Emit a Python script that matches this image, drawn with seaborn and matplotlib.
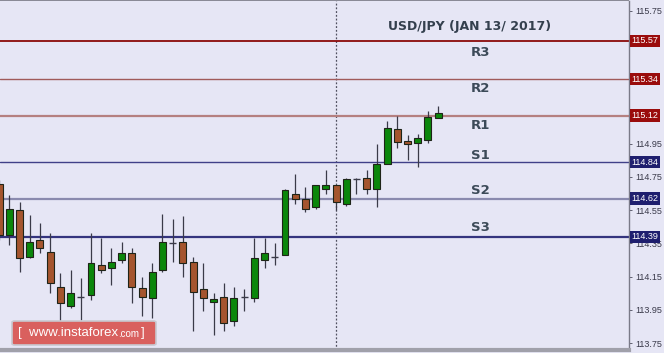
import matplotlib
matplotlib.use("Agg")
import matplotlib.pyplot as plt
import matplotlib.transforms as mtransforms
from matplotlib.patches import FancyBboxPatch, Rectangle
import numpy as np
import pandas as pd
import seaborn as sns

# USD/JPY hourly candles (open, high, low, close)
opens = [114.71, 114.40, 114.55, 114.27, 114.37, 114.30, 114.09, 113.97, 114.03, 114.04,
         114.22, 114.20, 114.25, 114.29, 114.08, 114.02, 114.19, 114.35, 114.36, 114.24,
         114.075, 114.00, 114.03, 113.88, 114.03, 114.02, 114.25, 114.27, 114.28, 114.65,
         114.62, 114.57, 114.68, 114.70, 114.59, 114.735, 114.745, 114.68, 114.83, 115.04,
         114.967, 114.955, 114.97, 115.105]
highs = [114.73, 114.64, 114.60, 114.52, 114.47, 114.41, 114.17, 114.19, 114.14, 114.41,
         114.38, 114.32, 114.36, 114.32, 114.15, 114.23, 114.53, 114.50, 114.515, 114.27,
         114.23, 114.05, 114.11, 114.09, 114.075, 114.38, 114.38, 114.35, 114.68, 114.77,
         114.69, 114.70, 114.79, 114.70, 114.745, 114.745, 114.79, 114.95, 115.09, 115.12,
         115.00, 115.01, 115.15, 115.18]
lows = [114.37, 114.34, 114.18, 114.26, 114.29, 114.05, 113.75, 113.96, 113.89, 114.01,
        114.17, 114.10, 114.23, 113.99, 113.91, 113.90, 114.18, 114.24, 114.15, 113.82,
        113.94, 113.80, 113.82, 113.85, 113.94, 114.00, 114.20, 114.22, 114.28, 114.59,
        114.54, 114.56, 114.65, 114.55, 114.575, 114.65, 114.65, 114.57, 114.83, 114.925,
        114.85, 114.81, 114.955, 115.105]
closes = [114.40, 114.56, 114.26, 114.36, 114.32, 114.11, 113.99, 114.05, 114.03, 114.23,
          114.19, 114.24, 114.29, 114.09, 114.03, 114.18, 114.36, 114.35, 114.23, 114.06,
          114.02, 114.015, 113.87, 114.02, 114.03, 114.26, 114.29, 114.27, 114.67, 114.62,
          114.56, 114.70, 114.70, 114.60, 114.74, 114.735, 114.68, 114.83, 115.045, 114.96,
          114.95, 114.985, 115.11, 115.135]

# Pivot levels
level_names = ["R3", "R2", "R1", "S1", "S2", "S3"]
level_values = [115.57, 115.34, 115.12, 114.84, 114.62, 114.39]
level_label_y = [115.50, 115.28, 115.063, 114.877, 114.666, 114.443]

title_text = "USD/JPY (JAN 13/ 2017)"
tick_values = [113.75, 113.95, 114.15, 114.35, 114.55, 114.75, 114.95, 115.15, 115.35, 115.55, 115.75]
# ticks whose labels sit under a level price tag
covered_ticks = [115.15, 115.35, 115.55]

df = pd.DataFrame({"open": opens, "high": highs, "low": lows, "close": closes})
df["idx"] = np.arange(len(df))
df["bull"] = df["close"] >= df["open"]

bg = "#e6e6f5"
sns.set_theme(style="white", rc={"axes.facecolor": bg, "figure.facecolor": bg})
plt.rcParams["font.family"] = ["Liberation Sans", "DejaVu Sans"]

W, H = 664, 353
fig = plt.figure(figsize=(W / 100, H / 100), dpi=100)
ax = fig.add_axes([0, 3 / H, 629 / W, 349 / H])

green = "#0b870b"
brown = "#a5552e"
edge = "#1e2418"
wick = "#3a3a48"

# wicks
ax.vlines(df["idx"], df["low"], df["high"], color=wick, lw=0.9, zorder=3)

# bodies
body_w = 0.68
for _, r in df.iterrows():
    lo, hi = min(r["open"], r["close"]), max(r["open"], r["close"])
    if hi - lo < 0.006:
        ax.hlines((lo + hi) / 2, r["idx"] - body_w / 2, r["idx"] + body_w / 2,
                  color=wick, lw=1.0, zorder=4)
        continue
    ax.bar(r["idx"], hi - lo, bottom=lo, width=body_w,
           color=green if r["bull"] else brown, edgecolor=edge, linewidth=0.8, zorder=4)

# pivot level lines
level_styles = [("#8b0a0a", 1.3), ("#a05a5a", 1.0), ("#b58080", 1.6),
                ("#404088", 1.0), ("#8a8aae", 1.6), ("#34347e", 1.6)]
for v, (c, lw) in zip(level_values, level_styles):
    ax.axhline(v, color=c, lw=lw, zorder=2)

# session separator
ax.axvline(33, color="#505060", lw=0.9, ls=(0, (1.5, 1.5)), zorder=1)

ax.set_xlim(0.088, 61.69)
ax.set_ylim(113.708, 115.81)

ax.yaxis.tick_right()
ax.set_yticks(tick_values)
ax.set_yticklabels(["" if t in covered_ticks else f"{t:.2f}" for t in tick_values])
ax.tick_params(axis="y", which="both", right=True, length=2.5, width=0.7, color="#606070",
               labelsize=6.5, labelcolor="#3a3a4a", pad=2)
ax.set_xticks([])
for s in ["left", "top"]:
    ax.spines[s].set_visible(False)
ax.spines["right"].set_color("#7a7a88")
ax.spines["right"].set_linewidth(1.0)
ax.spines["bottom"].set_color("#a0a0aa")
ax.spines["bottom"].set_linewidth(3)

# level labels on the chart
for name, y in zip(level_names, level_label_y):
    ax.text(47.1, y, name, ha="center", va="center", fontsize=9.5, fontweight="bold",
            color="#3c4a58", family=["DejaVu Sans"], zorder=5)

ax.text(46.1, 115.655, title_text, ha="center", va="center", fontsize=9, fontweight="bold",
        color="#34404e", family=["DejaVu Sans"], zorder=5)

# price tags on the right axis
tr = mtransforms.blended_transform_factory(ax.transAxes, ax.transData)
for v, i in zip(level_values, range(6)):
    fc = "#9a0c0c" if i < 3 else "#1e1e6e"
    ax.text(1.004, v, f"{v:.2f}", transform=tr, ha="left", va="center", fontsize=6.5,
            color="white", clip_on=False, zorder=10,
            bbox=dict(boxstyle="square,pad=0.18", fc=fc, ec="none"))

# top frame line
fig.add_artist(Rectangle((0, 1 - 1 / H), 629 / W, 1 / H, transform=fig.transFigure,
                         fc="#8a8a96", ec="none"))

# watermark badge
fig.add_artist(FancyBboxPatch((12 / W, 8 / H), 144 / W, 24 / H, transform=fig.transFigure,
                              boxstyle="round,pad=0,rounding_size=0.004",
                              fc="#d9605e", ec="#c8c8d0", lw=1.2, zorder=20))
t1 = fig.text(18 / W, 20 / H, "[  www.instaforex", color="white", fontsize=9.5,
              ha="left", va="center", zorder=21)
fig.canvas.draw()
bb = t1.get_window_extent()
t2 = fig.text(bb.x1 / W, 19 / H, ".com", color="white", fontsize=7, ha="left",
              va="center", zorder=21)
fig.canvas.draw()
bb2 = t2.get_window_extent()
fig.text(bb2.x1 / W + 2 / W, 20 / H, "]", color="white", fontsize=9.5, ha="left",
         va="center", zorder=21)

fig.savefig("out.png", dpi=100, facecolor=bg)
